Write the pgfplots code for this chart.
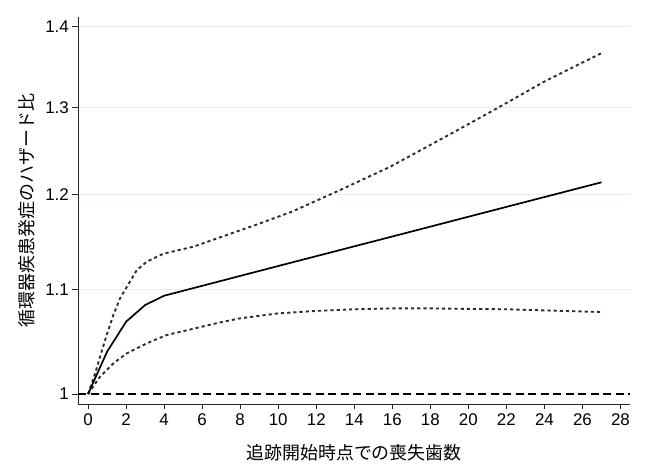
\documentclass[border=0pt]{standalone}
\usepackage{fontspec}
\setmainfont{Liberation Sans}
\newfontfamily\jp{Noto Sans CJK JP}
\usepackage{pgfplots}
\pgfplotsset{compat=1.18}
\definecolor{gridc}{RGB}{232,239,241}
\definecolor{dotc}{RGB}{45,45,45}
\begin{document}
\begin{tikzpicture}
\path[use as bounding box] (0,0) rectangle (650bp,472bp);
\begin{axis}[
  at={(78bp,68bp)}, anchor=south west,
  scale only axis, width=552bp, height=387bp,
  xmin=-0.53, xmax=28.5,
  ymode=log, ymin=0.9909, ymax=1.4119,
  axis x line*=bottom, axis y line*=left,
  axis line style={line width=0.8bp, black!85},
  xtick={0,2,...,28},
  ytick={1,1.1,1.2,1.3,1.4},
  yticklabels={1,1.1,1.2,1.3,1.4},
  tick align=outside, major tick length=5.5bp,
  tick style={line width=0.8bp, black!85},
  ymajorgrids, grid style={color=gridc, line width=0.9bp},
  /pgf/number format/assume math mode=true,
  tick label style={font=\fontsize{17}{17}\selectfont},
  xticklabel style={inner sep=4bp},
  yticklabel style={inner sep=3.5bp},
  xlabel={\jp 追跡開始時点での喪失歯数},
  ylabel={\jp 循環器疾患発症のハザード比},
  label style={font=\fontsize{18}{18}\selectfont},
  xlabel style={at={(axis description cs:0.5,0)}, anchor=center, yshift=-49bp},
  ylabel style={at={(axis description cs:0,0.5)}, anchor=center, yshift=51bp},
]
\addplot[black, line width=1.1bp, dash pattern=on 8bp off 4.5bp] coordinates {(-0.53,1) (28.5,1)};
% upper CI
\addplot[dotc, line width=1.9bp, dash pattern=on 3.2bp off 3bp] coordinates {
(0,1.0) (0.37,1.019) (0.63,1.0347) (0.98,1.0555) (1.33,1.075) (1.68,1.0915) (2.04,1.103)
(2.56,1.120) (3.09,1.1287) (3.96,1.137) (5.54,1.1443) (7.3,1.1566) (9.05,1.169)
(10.72,1.1815) (13.26,1.2052) (15.9,1.2312) (18.96,1.2674) (20,1.280)
(22,1.305) (24,1.331) (27,1.366)};
% lower CI
\addplot[dotc, line width=1.9bp, dash pattern=on 3.2bp off 3bp] coordinates {
(0,1.0) (0.63,1.016) (1.33,1.0285) (2.04,1.038) (3.09,1.0475) (4.14,1.0555) (5.19,1.060)
(6.77,1.067) (8,1.0717) (10,1.0766) (12,1.079) (14,1.0806) (16,1.0815) (18,1.0815)
(20,1.081) (22,1.0806) (24,1.0795) (27,1.0779)};
% hazard ratio
\addplot[black, line width=1.7bp] coordinates {
(0,1.0) (1,1.0395) (2,1.0684) (3,1.0848) (4,1.0941) (10,1.1242) (16,1.155) (22,1.1867) (27,1.2137)};
\end{axis}
\end{tikzpicture}
\end{document}
